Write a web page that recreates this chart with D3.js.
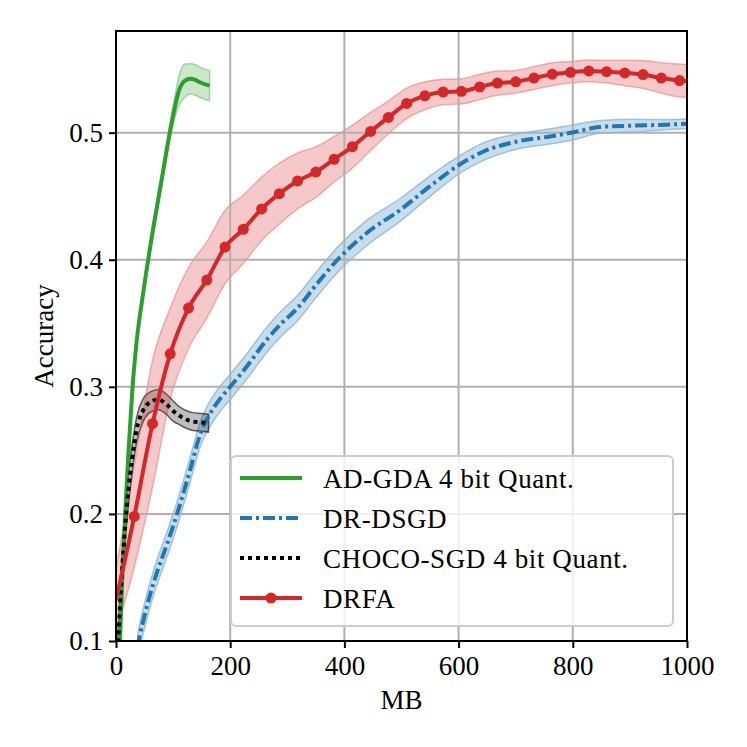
<!DOCTYPE html>
<html>
<head>
<meta charset="utf-8">
<script src="https://cdn.jsdelivr.net/npm/d3@7/dist/d3.min.js"></script>
<style>
  body { margin: 0; background: #fff; }
  text { font-family: "Liberation Serif", "DejaVu Serif", serif; }
</style>
</head>
<body>
<svg id="chart" width="747" height="747"></svg>
<script>
// ---- data ----
var xTicks = [0, 200, 400, 600, 800, 1000];
var yTicks = [0.1, 0.2, 0.3, 0.4, 0.5];

// AD-GDA 4 bit Quant.
var gdaMB  = [3, 7, 11, 16, 22, 29, 36, 48, 62, 80, 95, 104, 111, 121, 130, 138, 147, 156, 164];
var gdaAcc = [0.07, 0.10, 0.15, 0.20, 0.25, 0.30, 0.335, 0.375, 0.416, 0.463, 0.502, 0.522, 0.534, 0.541, 0.5425, 0.5417, 0.5397, 0.538, 0.537];
var gdaStd = [0.004, 0.004, 0.004, 0.004, 0.004, 0.004, 0.004, 0.004, 0.005, 0.005, 0.006, 0.009, 0.012, 0.013, 0.012, 0.012, 0.012, 0.012, 0.012];

// DR-DSGD
var dsgdMB  = [38, 42, 50, 60, 71, 90, 107, 130, 147, 165, 183, 200, 229, 264, 290, 318, 350, 388, 439, 497, 556, 602, 643, 702, 760, 801, 848, 906, 964, 1000];
var dsgdAcc = [0.095, 0.105, 0.12, 0.137, 0.153, 0.177, 0.20, 0.235, 0.262, 0.279, 0.291, 0.30, 0.316, 0.337, 0.35, 0.362, 0.38, 0.40, 0.421, 0.439, 0.46, 0.475, 0.485, 0.493, 0.497, 0.5003, 0.5045, 0.5055, 0.5063, 0.507];
var dsgdStd = [0.01, 0.01, 0.01, 0.01, 0.01, 0.01, 0.01, 0.01, 0.01, 0.01, 0.01, 0.01, 0.01, 0.01, 0.01, 0.01, 0.01, 0.01, 0.01, 0.009, 0.008, 0.007, 0.007, 0.006, 0.006, 0.006, 0.005, 0.005, 0.004, 0.004];

// CHOCO-SGD 4 bit Quant.
var chocoMB  = [2, 4, 10, 16, 22, 28, 36, 48, 60, 74, 89, 100, 112, 125, 135, 150, 162];
var chocoAcc = [0.08, 0.10, 0.15, 0.19, 0.22, 0.2425, 0.266, 0.282, 0.288, 0.29, 0.286, 0.281, 0.277, 0.274, 0.2727, 0.272, 0.2714];
var chocoStd = [0.012, 0.012, 0.012, 0.012, 0.012, 0.011, 0.01, 0.009, 0.008, 0.008, 0.008, 0.008, 0.007, 0.007, 0.007, 0.007, 0.007];

// DRFA (markers on inner points)
var drfaMB  = [0, 32, 64, 95, 127, 159, 191, 223, 255, 286, 318, 350, 382, 414, 446, 477, 509, 541, 573, 605, 637, 668, 700, 732, 764, 796, 828, 859, 891, 923, 955, 987, 1000];
var drfaAcc = [0.132, 0.198, 0.271, 0.326, 0.362, 0.384, 0.410, 0.424, 0.440, 0.452, 0.462, 0.469, 0.479, 0.489, 0.501, 0.512, 0.523, 0.529, 0.532, 0.5325, 0.536, 0.539, 0.540, 0.543, 0.546, 0.5475, 0.5486, 0.548, 0.547, 0.5457, 0.543, 0.541, 0.5405];
var drfaStd = [0.025, 0.04, 0.05, 0.036, 0.032, 0.03, 0.029, 0.027, 0.025, 0.024, 0.022, 0.02, 0.018, 0.017, 0.015, 0.013, 0.012, 0.011, 0.01, 0.01, 0.01, 0.0095, 0.009, 0.009, 0.009, 0.0085, 0.0085, 0.009, 0.01, 0.011, 0.012, 0.013, 0.013];

var legendNames = ['AD-GDA 4 bit Quant.', 'DR-DSGD', 'CHOCO-SGD 4 bit Quant.', 'DRFA'];

(function () {
    function zip(xs, ys, ss) {
        return xs.map(function (x, i) { return { x: x, y: ys[i], s: ss[i] }; });
    }

    var series = [
        { name: legendNames[0], color: '#2ca02c', edge: 0.35, data: zip(gdaMB, gdaAcc, gdaStd), dash: null },
        { name: legendNames[1], color: '#1f77b4', edge: 0.35, data: zip(dsgdMB, dsgdAcc, dsgdStd), dash: '12,4,3,4' },
        { name: legendNames[2], color: '#000000', edge: 0.6, data: zip(chocoMB, chocoAcc, chocoStd), dash: '4,4' },
        { name: legendNames[3], color: '#d62728', edge: 0.3, data: zip(drfaMB, drfaAcc, drfaStd), dash: null, markers: true }
    ];

    // ---- layout ----
    var svg = d3.select('#chart');
    var pl = 116, pt = 31, pr = 687, pb = 641;

    var x = d3.scaleLinear().domain([0, 1000]).range([pl, pr]);
    var y = d3.scaleLinear().domain([0.1, 0.58]).range([pb, pt]);

    svg.append('defs').append('clipPath').attr('id', 'plot')
        .append('rect')
        .attr('x', pl).attr('y', pt)
        .attr('width', pr - pl).attr('height', pb - pt);

    var area = d3.area()
        .curve(d3.curveMonotoneX)
        .x(function (d) { return x(d.x); })
        .y0(function (d) { return y(d.y - d.s); })
        .y1(function (d) { return y(d.y + d.s); });

    var line = d3.line()
        .curve(d3.curveMonotoneX)
        .x(function (d) { return x(d.x); })
        .y(function (d) { return y(d.y); });

    var bands = svg.append('g').attr('clip-path', 'url(#plot)');

    // bands under the grid
    series.forEach(function (s) {
        bands.append('path')
            .datum(s.data)
            .attr('d', area)
            .attr('fill', s.color)
            .attr('fill-opacity', 0.25)
            .attr('stroke', s.color)
            .attr('stroke-opacity', s.edge)
            .attr('stroke-width', 1.5);
    });

    // grid
    var grid = svg.append('g');
    xTicks.forEach(function (t) {
        grid.append('line')
            .attr('x1', x(t)).attr('x2', x(t))
            .attr('y1', pt).attr('y2', pb)
            .attr('stroke', '#b0b0b0').attr('stroke-width', 2);
    });
    yTicks.forEach(function (t) {
        grid.append('line')
            .attr('x1', pl).attr('x2', pr)
            .attr('y1', y(t)).attr('y2', y(t))
            .attr('stroke', '#b0b0b0').attr('stroke-width', 2);
    });

    // lines
    var plot = svg.append('g').attr('clip-path', 'url(#plot)');
    series.forEach(function (s) {
        var p = plot.append('path')
            .datum(s.data)
            .attr('d', line)
            .attr('fill', 'none')
            .attr('stroke', s.color)
            .attr('stroke-width', 4);
        if (s.dash) p.attr('stroke-dasharray', s.dash);
        if (s.markers) {
            plot.selectAll('.dot')
                .data(s.data.filter(function (d) { return d.x > 0 && d.x < 1000; }))
                .enter().append('circle')
                .attr('class', 'dot')
                .attr('cx', function (d) { return x(d.x); })
                .attr('cy', function (d) { return y(d.y); })
                .attr('r', 5.5)
                .attr('fill', s.color);
        }
    });

    // axes
    var xAxis = d3.axisBottom(x).tickValues(xTicks).tickSize(7).tickPadding(8).tickFormat(d3.format('d'));
    var yAxis = d3.axisLeft(y).tickValues(yTicks).tickSize(7).tickPadding(6).tickFormat(d3.format('.1f'));

    var gx = svg.append('g').attr('transform', 'translate(0,' + pb + ')').call(xAxis);
    var gy = svg.append('g').attr('transform', 'translate(' + pl + ',0)').call(yAxis);
    [gx, gy].forEach(function (g) {
        g.select('.domain').remove();
        g.selectAll('line').attr('stroke', '#000').attr('stroke-width', 2);
        g.selectAll('text').attr('font-size', 27).attr('fill', '#000')
            .style('font-family', '"Liberation Serif", serif');
    });

    // frame
    svg.append('rect')
        .attr('x', pl).attr('y', pt)
        .attr('width', pr - pl).attr('height', pb - pt)
        .attr('fill', 'none').attr('stroke', '#000').attr('stroke-width', 2);

    // axis titles
    svg.append('text')
        .attr('x', (pl + pr) / 2).attr('y', 709)
        .attr('text-anchor', 'middle').attr('font-size', 27)
        .text('MB');
    svg.append('text')
        .attr('transform', 'translate(53,' + ((pt + pb) / 2) + ') rotate(-90)')
        .attr('text-anchor', 'middle').attr('font-size', 27)
        .text('Accuracy');

    // legend
    var lg = svg.append('g');
    lg.append('rect')
        .attr('x', 231).attr('y', 456).attr('width', 442).attr('height', 170)
        .attr('rx', 5)
        .attr('fill', '#fff').attr('fill-opacity', 0.8)
        .attr('stroke', '#cccccc').attr('stroke-width', 2);

    series.forEach(function (s, i) {
        var cy = 478 + i * 40;
        var l = lg.append('line')
            .attr('x1', 240).attr('x2', 302)
            .attr('y1', cy).attr('y2', cy)
            .attr('stroke', s.color).attr('stroke-width', 4);
        if (s.dash) l.attr('stroke-dasharray', s.dash);
        if (s.markers) {
            lg.append('circle').attr('cx', 271).attr('cy', cy).attr('r', 5.5).attr('fill', s.color);
        }
        lg.append('text')
            .attr('x', 323).attr('y', cy + 10)
            .attr('font-size', 27)
            .style('letter-spacing', '0.6px')
            .text(s.name);
    });
})();
</script>
</body>
</html>
